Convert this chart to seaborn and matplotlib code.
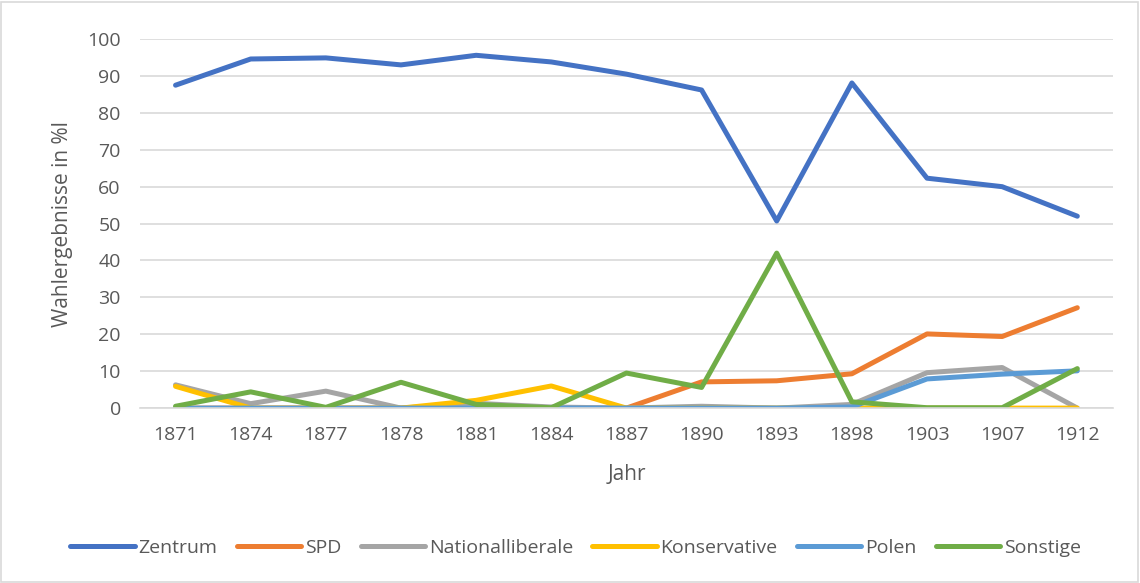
import pandas as pd
import matplotlib.pyplot as plt
import seaborn as sns
from matplotlib.patches import Rectangle

years = ["1871", "1874", "1877", "1878", "1881", "1884", "1887", "1890", "1893", "1898", "1903", "1907", "1912"]
zentrum = [87.5, 94.6, 94.9, 93.0, 95.6, 93.8, 90.5, 86.2, 50.7, 88.1, 62.3, 60.0, 52.0]
spd = [0, 0, 0, 0, 0, 0, 0, 7.1, 7.4, 9.3, 20.1, 19.4, 27.2]
nationalliberale = [6.3, 1.2, 4.6, 0, 1.3, 0.3, 0, 0.5, 0, 1.0, 9.6, 11.0, 0]
konservative = [5.9, 0, 0, 0, 2.1, 6.0, 0, 0, 0, 0, 0, 0, 0]
polen = [0, 0, 0, 0, 0, 0, 0, 0, 0, 0.3, 7.9, 9.2, 10.1]
sonstige = [0.5, 4.4, 0.2, 7.0, 1.0, 0.1, 9.5, 5.6, 42.0, 1.7, 0.1, 0.1, 10.7]

parties = ["Zentrum", "SPD", "Nationalliberale", "Konservative", "Polen", "Sonstige"]
colors = ["#4472C4", "#ED7D31", "#A5A5A5", "#FFC000", "#5B9BD5", "#70AD47"]
series = [zentrum, spd, nationalliberale, konservative, polen, sonstige]

rows = []
for name, vals in zip(parties, series):
    for y, v in zip(years, vals):
        rows.append({"Jahr": y, "Wert": v, "Partei": name})
df = pd.DataFrame(rows)

sns.set_style("white")
plt.rcParams['font.family'] = ['Open Sans', 'DejaVu Sans']

fig = plt.figure(figsize=(11.4, 5.83), dpi=100)
ax = fig.add_axes([0.123, 0.30, 0.853, 0.633])

sns.lineplot(data=df, x="Jahr", y="Wert", hue="Partei", palette=colors,
             linewidth=3.6, ax=ax, sort=False)
for line in ax.lines:
    line.set_solid_capstyle('round')
    line.set_solid_joinstyle('round')

ax.set_ylim(0, 100)
ax.set_yticks(range(0, 101, 10))
ax.set_xlim(-0.47, len(years) - 0.53)
ax.yaxis.grid(True, color="#D9D9D9", linewidth=1.2)
ax.set_axisbelow(True)
for s in ["top", "right", "left"]:
    ax.spines[s].set_visible(False)
ax.spines["bottom"].set_color("#D9D9D9")
ax.spines["bottom"].set_linewidth(1.2)
ax.tick_params(axis="y", length=0, labelsize=14, colors="#595959", pad=14)
ax.tick_params(axis="x", length=0, labelsize=14, colors="#595959", pad=13)
ax.set_xlabel("Jahr", fontsize=15, color="#595959", labelpad=14)
ax.set_ylabel("Wahlergebnisse in %l", fontsize=15, color="#595959", labelpad=10)

handles, labels = ax.get_legend_handles_labels()
ax.legend(handles, labels, loc="center", bbox_to_anchor=(0.505, 0.06), bbox_transform=fig.transFigure,
          ncol=6, frameon=False, fontsize=14, handlelength=3.3, columnspacing=1.0,
          handletextpad=0.2, labelcolor="#595959")

fig.patches.append(Rectangle((0.001, 0.002), 0.997, 0.995, transform=fig.transFigure,
                             fill=False, edgecolor="#D9D9D9", linewidth=1.2))

fig.savefig("out.png", dpi=100)
